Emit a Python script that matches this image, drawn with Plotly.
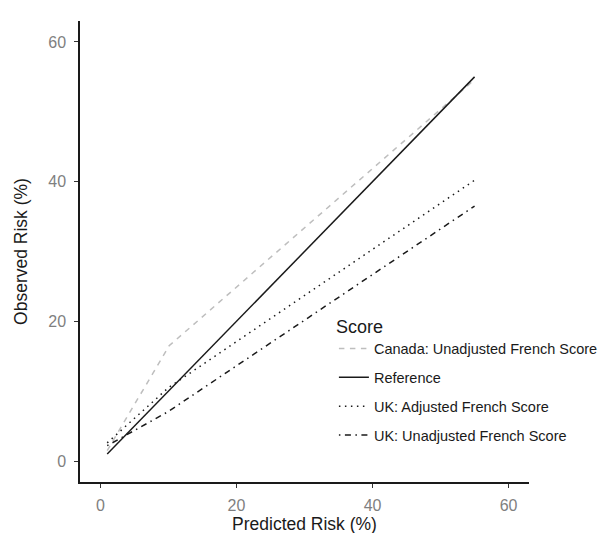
import plotly.graph_objects as go

# Data
canada_x = [1, 10.1, 55]
canada_y = [1.5, 16.5, 54.6]
ref_x = [1, 55]
ref_y = [1, 55]
uk_adj_x = [1, 10, 55]
uk_adj_y = [2.6, 10.5, 40.2]
uk_unadj_x = [1, 10, 55]
uk_unadj_y = [2.2, 7.1, 36.5]

tick_vals = [0, 20, 40, 60]
names = ["Canada: Unadjusted French Score", "Reference",
         "UK: Adjusted French Score", "UK: Unadjusted French Score"]

FONT = "Liberation Sans, Arial, sans-serif"

fig = go.Figure()
series = [
    (canada_x, canada_y, "#BEBEBE", "5.5px,5.5px"),
    (ref_x, ref_y, "#1a1a1a", "solid"),
    (uk_adj_x, uk_adj_y, "#1a1a1a", "1.5px,4.5px"),
    (uk_unadj_x, uk_unadj_y, "#1a1a1a", "1.5px,4.5px,6px,4.5px"),
]
for name, (xs, ys, col, dash) in zip(names, series):
    fig.add_trace(go.Scatter(x=xs, y=ys, mode="lines", name=name, legendgroup=name,
                             line=dict(color=col, width=1.5, dash=dash)))

axis_common = dict(
    showgrid=False, zeroline=False, showline=True, linecolor="#1a1a1a", linewidth=1.5,
    ticks="outside", ticklen=4, tickcolor="#333333", tickwidth=1,
    tickvals=tick_vals, automargin=False,
    tickfont=dict(family=FONT, size=16, color="#7f7f7f"),
    title_font=dict(family=FONT, size=17.5, color="#1a1a1a"),
)

fig.update_layout(
    width=607, height=533,
    margin=dict(l=72, r=77, t=13, b=59),
    plot_bgcolor="white", paper_bgcolor="white",
    font=dict(family=FONT, color="#1a1a1a"),
    xaxis=dict(range=[-3, 63], ticklabelstandoff=4,
               title=dict(text="Predicted Risk (%)", standoff=0), **axis_common),
    yaxis=dict(range=[-3, 63], ticklabelstandoff=5,
               title=dict(text="Observed Risk (%)", standoff=16), **axis_common),
    legend=dict(x=0.5655, y=0.375, xanchor="left", yanchor="top",
                title=dict(text="Score", font=dict(family=FONT, size=18, color="#1a1a1a")),
                font=dict(family=FONT, size=14.5, color="#1a1a1a"), bgcolor="rgba(0,0,0,0)",
                tracegroupgap=7, itemwidth=30),
    showlegend=True,
)

fig.write_html("out.html")
